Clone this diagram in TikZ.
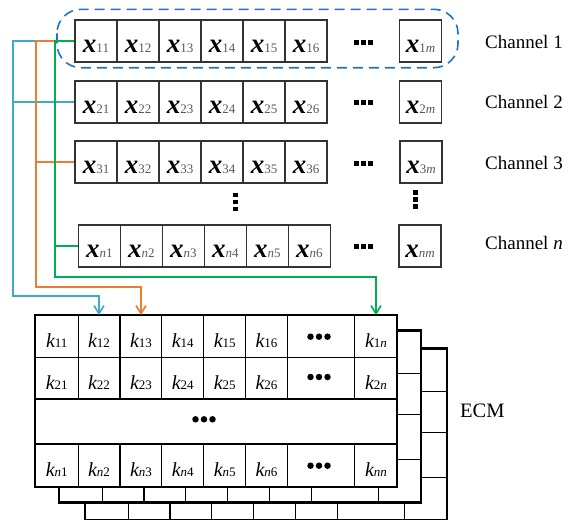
\documentclass[tikz,border=0pt]{standalone}
\usepackage{fontspec}
\setmainfont{Liberation Serif}
\usetikzlibrary{arrows.meta}
\definecolor{cblue}{HTML}{3FA9C9}
\definecolor{corange}{HTML}{ED7D31}
\definecolor{cgreen}{HTML}{00B050}
\definecolor{cdash}{HTML}{1F74C4}
\newcommand{\xlab}[1]{{\fontsize{27}{27}\selectfont\bfseries\itshape x}{\fontsize{13}{13}\selectfont\color{black!65}#1}}
\newcommand{\klab}[1]{{\fontsize{20}{20}\selectfont\itshape k}{\fontsize{13}{13}\selectfont#1}}
\newcommand{\ecmlayer}[2]{%
  \begin{scope}[shift={(#1,#2)}]
    \fill[white] (35,315) rectangle (397,487);
    \draw[gridline] (35,357.7) -- (397,357.7) (35,399) -- (397,399) (35,444) -- (397,444);
    \foreach \c in {78.3,120,161.7,203.7,245.7,287.3,354.3}{
      \draw[gridline] (\c,315) -- (\c,399) (\c,444) -- (\c,487);}
    \draw[gridframe] (35,315) rectangle (397,487);
  \end{scope}}
\tikzset{
  xbox/.style={draw=black!80, line width=1.3pt, minimum width=42pt, minimum height=42pt, inner sep=0pt, text height=23pt, text depth=0pt},
  kcell/.style={minimum width=42pt, minimum height=42pt, inner sep=0pt, text height=22pt, text depth=0pt},
  gridline/.style={line width=1.3pt, black},
  gridframe/.style={line width=2.4pt, black},
  sqdot/.style={fill=black, minimum size=5pt, inner sep=0pt},
  rdot/.style={circle, fill=black, minimum size=6.5pt, inner sep=0pt},
  wire/.style={line width=2pt},
  tip/.style={-{Straight Barb[length=8pt,width=10pt,line width=1.6pt]}},
  chan/.style={anchor=west, inner sep=0pt, font=\fontsize{19}{19}\selectfont}
}
\begin{document}
\begin{tikzpicture}[x=1pt,y=-1pt]
\useasboundingbox (0,0) rectangle (574,520);
% dashed outline around channel 1
\draw[draw=cdash, line width=1.6pt, dash pattern=on 10pt off 6pt, rounded corners=24pt] (57,9.3) rectangle (458,67.7);
% channel rows
\foreach \r/\y/\xs/\lastx in {1/41/75/420.5, 2/102/75/420.5, 3/162/75/421}{
  \foreach \j in {1,...,6}{
    \node[xbox] (x\r\j) at ({\xs+21+42*(\j-1)},\y) {\xlab{\r\j}};
  }
  \node[xbox] (x\r m) at (\lastx,\y) {\xlab{\r\textit{m}}};
}
\foreach \j in {1,...,6}{
  \node[xbox] (xn\j) at ({78.3+21+42*(\j-1)},246) {\xlab{\textit{n}\j}};
}
\node[xbox] (xnm) at (420,246) {\xlab{\textit{nm}}};
% horizontal square dots
\foreach \y/\nm in {42/a,102/b,163/c,246.5/d}{
  \node[sqdot] (h\nm1) at (356,\y) {};
  \node[sqdot] (h\nm2) at (363,\y) {};
  \node[sqdot] (h\nm3) at (370,\y) {};
}
% vertical dots
\node[sqdot, minimum size=4.5pt] (v11) at (235.3,195) {};
\node[sqdot, minimum size=4.5pt] (v12) at (235.3,202) {};
\node[sqdot, minimum size=4.5pt] (v13) at (235.3,209) {};
\node[sqdot, minimum size=4.5pt] (v21) at (415.3,192.5) {};
\node[sqdot, minimum size=4.5pt] (v22) at (415.3,199.5) {};
\node[sqdot, minimum size=4.5pt] (v23) at (415.3,206.5) {};
% channel labels
\node[chan] (ch1) at (485,42) {Channel 1};
\node[chan] (ch2) at (485,102) {Channel 2};
\node[chan] (ch3) at (485,163) {Channel 3};
\node[chan] (chn) at (485,243) {Channel \textit{n}};
% ECM layers
\ecmlayer{50}{33.5}
\ecmlayer{24}{15.5}
\ecmlayer{0}{0}
\node[anchor=west, inner sep=0pt, font=\fontsize{20.5}{20.5}\selectfont] (ecm) at (460,411) {ECM};
% cells of front layer
\foreach \r/\y/\rl in {1/336.3/1, 2/378.3/2, n/465.5/\textit{n}}{
  \foreach \j/\cx in {1/56.7,2/99,3/141,4/182.7,5/224.7,6/266.5}{
    \node[kcell] (k\r\j) at (\cx,\y) {\klab{\rl\j}};
  }
  \node[kcell] (k\r n) at (376,\y) {\klab{\rl\textit{n}}};
}
\foreach \y/\nm in {336.7/a,377/b,465.7/c}{
  \node[rdot] (d\nm1) at (310.5,\y) {};
  \node[rdot] (d\nm2) at (319,\y) {};
  \node[rdot] (d\nm3) at (327.5,\y) {};
}
\node[rdot] (dm1) at (195.5,419.3) {};
\node[rdot] (dm2) at (204,419.3) {};
\node[rdot] (dm3) at (212.5,419.3) {};
% connectors
\coordinate (bv) at (13,296);
\coordinate (ov) at (36,287);
\coordinate (gv) at (55,277);
\draw[wire, draw=cblue] (x21.west) -- (x21.west -| bv);
\draw[wire, tip, draw=cblue] (x11.west) -| (bv) -| (k12.north);
\draw[wire, draw=corange] (x31.west) -- (x31.west -| ov);
\draw[wire, tip, draw=corange] (x11.west) -| (ov) -| (k13.north);
\draw[wire, draw=cgreen] (xn1.west) -- (xn1.west -| gv);
\draw[wire, tip, draw=cgreen] (x11.west) -| (gv) -| (k1n.north);
\end{tikzpicture}
\end{document}
